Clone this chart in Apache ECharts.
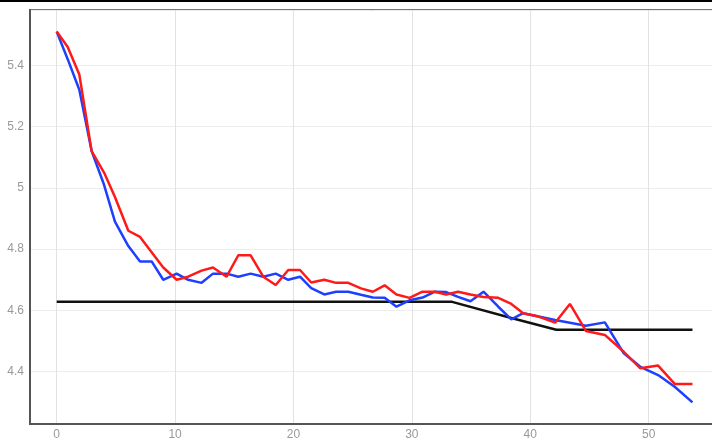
<!DOCTYPE html>
<html>
<head>
<meta charset="utf-8">
<script src="https://cdn.jsdelivr.net/npm/echarts@6/dist/echarts.min.js"></script>
<style>
  html, body { margin: 0; padding: 0; background: #fff; }
  #app { width: 712px; height: 441px; }
</style>
</head>
<body>
<div id="app"></div>
<script>
const app = document.getElementById('app')
const echart = echarts.init(app)

// x positions of the samples (spacing is not even)
const xs = [
  0, 0.93, 1.91, 2.95, 4, 4.92, 6.05, 7.04, 8.02, 9.0,
  10.13, 11.1, 12.24, 13.2, 14.35, 15.34, 16.38, 17.45, 18.5, 19.56,
  20.55, 21.5, 22.6, 23.6, 24.63, 25.7, 26.7, 27.7, 28.7, 29.8,
  30.9, 31.95, 32.9, 33.9, 34.95, 36.05, 37.3, 38.4, 39.4, 40.7,
  42.1, 43.35, 44.7, 46.3, 47.9, 49.3, 50.8, 52.2, 53.7
]
const blueVals = [
  5.51, 5.42, 5.32, 5.12, 5.01, 4.89, 4.81, 4.76, 4.76, 4.70,
  4.72, 4.70, 4.69, 4.72, 4.72, 4.71, 4.72, 4.71, 4.72, 4.70,
  4.71, 4.673, 4.652, 4.661, 4.661, 4.651, 4.642, 4.641, 4.612, 4.633,
  4.642, 4.661, 4.66, 4.644, 4.63, 4.661, 4.612, 4.571, 4.591, 4.58,
  4.569, 4.56, 4.55, 4.561, 4.46, 4.416, 4.389, 4.351, 4.30
]
const redVals = [
  5.51, 5.46, 5.37, 5.12, 5.05, 4.97, 4.86, 4.84, 4.79, 4.74,
  4.70, 4.71, 4.73, 4.74, 4.71, 4.78, 4.78, 4.71, 4.683, 4.732,
  4.732, 4.691, 4.70, 4.69, 4.69, 4.672, 4.661, 4.682, 4.652, 4.641,
  4.661, 4.661, 4.652, 4.661, 4.652, 4.644, 4.641, 4.621, 4.591, 4.58,
  4.56, 4.621, 4.533, 4.52, 4.465, 4.411, 4.42, 4.36, 4.36
]
// black reference line
const blackX = [0, 33.4, 38.4, 42.2, 53.7]
const blackVals = [4.628, 4.628, 4.575, 4.537, 4.537]

const pairs = (x, y) => x.map((v, i) => [v, y[i]])

echart.setOption({
  animation: false,
  graphic: [
    {
      type: 'rect',
      shape: { x: 0, y: 0, width: 712, height: 2 },
      style: { fill: '#000' }
    }
  ],
  grid: {
    left: 30,
    top: 10,
    right: -20,
    bottom: 17,
    outerBoundsMode: 'none',
    containLabel: false,
    show: true,
    borderColor: '#777',
    borderWidth: 2
  },
  xAxis: {
    type: 'value',
    min: -2.255,
    max: 57.04,
    splitNumber: 5,
    axisLine: { show: true, onZero: false, lineStyle: { color: '#555', width: 2 } },
    axisTick: { show: false },
    axisLabel: {
      color: '#999',
      fontSize: 12,
      margin: 5,
      showMinLabel: false,
      showMaxLabel: false
    },
    splitLine: { lineStyle: { color: '#e2e2e2', width: 1 } }
  },
  yAxis: {
    type: 'value',
    min: 4.2293,
    max: 5.5805,
    splitNumber: 6,
    axisLine: { show: true, onZero: false, lineStyle: { color: '#555', width: 2 } },
    axisTick: { show: false },
    axisLabel: {
      color: '#999',
      fontSize: 12,
      margin: 6,
      showMinLabel: false,
      showMaxLabel: false
    },
    splitLine: { lineStyle: { color: '#ececec', width: 1 } }
  },
  series: [
    {
      type: 'line',
      data: pairs(blackX, blackVals),
      showSymbol: false,
      lineStyle: { color: '#111', width: 2.5 }
    },
    {
      type: 'line',
      data: pairs(xs, blueVals),
      showSymbol: false,
      lineStyle: { color: '#1f3fff', width: 2.5 }
    },
    {
      type: 'line',
      data: pairs(xs, redVals),
      showSymbol: false,
      lineStyle: { color: '#ff1a1a', width: 2.5 }
    }
  ]
})
</script>
</body>
</html>
